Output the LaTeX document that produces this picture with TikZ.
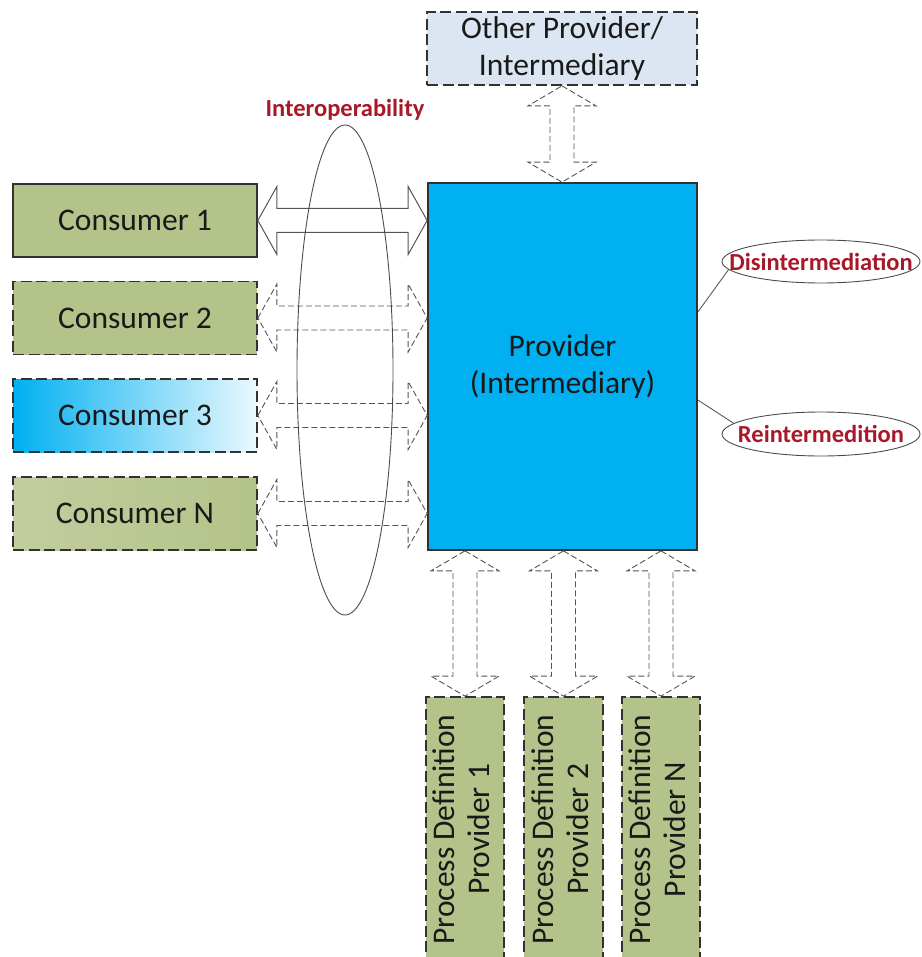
\documentclass[tikz,border=0pt]{standalone}
\usepackage{fontspec}
\setmainfont{Carlito}
\usetikzlibrary{calc,shapes.geometric}
\definecolor{olivef}{RGB}{180,195,137}
\definecolor{provblue}{RGB}{0,176,240}
\definecolor{otherf}{RGB}{220,230,242}
\definecolor{labred}{RGB}{168,24,40}
\definecolor{bordk}{RGB}{50,50,50}
\definecolor{arrg}{RGB}{85,85,85}
\newcommand\harrowpath[3]{\draw[#3] let \p1=(#1), \p2=(#2) in
  (\x1,\y1) -- (\x1+19pt,\y1+34pt) -- (\x1+19pt,\y1+12pt) -- (\x2-19pt,\y1+12pt) -- (\x2-19pt,\y1+34pt)
  -- (\x2,\y1) -- (\x2-19pt,\y1-34pt) -- (\x2-19pt,\y1-12pt) -- (\x1+19pt,\y1-12pt) -- (\x1+19pt,\y1-34pt) -- cycle;}
\newcommand\varrowpath[3]{\draw[#3] let \p1=(#1), \p2=(#2) in
  (\x1,\y1) -- (\x1+34pt,\y1-20pt) -- (\x1+12pt,\y1-20pt) -- (\x1+12pt,\y2+20pt) -- (\x1+34pt,\y2+20pt)
  -- (\x1,\y2) -- (\x1-34pt,\y2+20pt) -- (\x1-12pt,\y2+20pt) -- (\x1-12pt,\y1-20pt) -- (\x1-34pt,\y1-20pt) -- cycle;}
\tikzset{
  txt/.style={font=\fontsize{31.5}{37}\selectfont, text=black!90, align=center},
  solidbox/.style={draw=bordk, line width=1.7pt, txt},
  dashbox/.style={draw=bordk, line width=1.7pt, dash pattern=on 11pt off 4.5pt, txt},
  conbox/.style={minimum width=244pt, minimum height=73pt},
  pdbox/.style={dashbox, fill=olivef, minimum width=74pt, minimum height=265pt},
  arrsolid/.style={draw=arrg, line width=1pt, fill=white, line join=miter},
  arrdash/.style={draw=arrg, line width=0.9pt, fill=white, dash pattern=on 6pt off 3pt},
  redlab/.style={font=\fontsize{24.5}{29}\selectfont\bfseries, text=labred},
  ovalbox/.style={ellipse, draw=black!70, line width=0.9pt, inner sep=0pt},
}
\begin{document}
\begin{tikzpicture}[x=1pt,y=-1pt]
\useasboundingbox (0,0) rectangle (921,957);
\clip (0,0) rectangle (921,957);
% boxes
\node[solidbox, conbox, fill=olivef] (c1) at (135,220.5) {Consumer 1};
\node[dashbox, conbox, fill=olivef] (c2) at (135,318) {Consumer 2};
\node[dashbox, conbox, left color=provblue, middle color=provblue!45, right color=provblue!8] (c3) at (135,415.5) {Consumer 3};
\node[dashbox, conbox, left color=olivef!82!white, right color=olivef] (cN) at (135,513.5) {Consumer N};
\node[solidbox, fill=provblue, minimum width=269pt, minimum height=367pt] (prov) at (562.5,366.5) {Provider\\(Intermediary)};
\node[dashbox, fill=otherf, minimum width=270pt, minimum height=73pt] (other) at (562,48.5) {Other Provider/\\Intermediary};
\node[pdbox] (pd1) at (465,829.5) {\rotatebox{90}{\begin{tabular}{c}Process Definition\\[-2pt]Provider 1\end{tabular}}};
\node[pdbox] (pd2) at (563.5,829.5) {\rotatebox{90}{\begin{tabular}{c}Process Definition\\[-2pt]Provider 2\end{tabular}}};
\node[pdbox] (pdN) at (661,829.5) {\rotatebox{90}{\begin{tabular}{c}Process Definition\\[-2pt]Provider N\end{tabular}}};
% connectors
\harrowpath{c1.east}{prov.west |- c1.east}{arrsolid}
\harrowpath{c2.east}{prov.west |- c2.east}{arrdash}
\harrowpath{c3.east}{prov.west |- c3.east}{arrdash}
\harrowpath{cN.east}{prov.west |- cN.east}{arrdash}
\varrowpath{other.south}{prov.north}{arrdash}
\varrowpath{prov.south -| pd1.north}{pd1.north}{arrdash}
\varrowpath{prov.south -| pd2.north}{pd2.north}{arrdash}
\varrowpath{prov.south -| pdN.north}{pdN.north}{arrdash}
% ellipses and labels
\node[ovalbox, minimum width=96pt, minimum height=490pt] (interop) at (345,370) {};
\node[redlab] (interlab) at (345,110) {Interoperability};
\node[ovalbox, minimum width=198pt, minimum height=43pt] (dis) at (821,261.5) {};
\node[redlab] (dislab) at (dis) {Disintermediation};
\node[ovalbox, minimum width=198pt, minimum height=44pt] (rei) at (821,434) {};
\node[redlab] (reilab) at (rei) {Reintermedition};
\draw[black!65, line width=0.9pt] ([yshift=54.5pt]prov.east) -- (dis.185);
\draw[black!65, line width=0.9pt] ([yshift=-33.5pt]prov.east) -- (rei.173);
\end{tikzpicture}
\end{document}
